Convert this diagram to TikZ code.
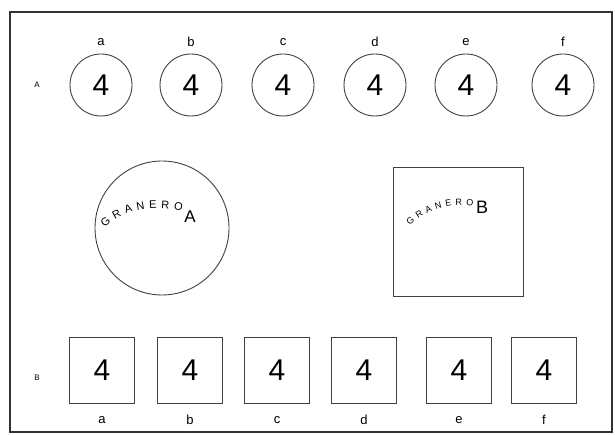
\documentclass[tikz,border=0pt]{standalone}
\usepackage{fontspec}
\setmainfont{Liberation Sans}
\usetikzlibrary{decorations.text}
\begin{document}
\begin{tikzpicture}[x=1pt,y=1pt,
  ink/.style={draw=black!75, line width=0.9pt},
  bin/.style={ink, circle, minimum size=62pt, inner sep=0pt, font=\fontsize{30}{30}\selectfont},
  box/.style={ink, rectangle, minimum width=65pt, minimum height=66pt, inner sep=0pt, font=\fontsize{30}{30}\selectfont},
  lab/.style={font=\fontsize{13}{13}\selectfont, inner sep=1pt},
  rowlab/.style={font=\fontsize{8}{8}\selectfont, inner sep=1pt}]
\useasboundingbox (0,0) rectangle (615,434);
\draw[draw=black!80, line width=1.4pt] (10,2) rectangle (612,422);
% row A
\node[rowlab] (rA) at (37,349) {A};
\foreach \x/\l [count=\i] in {101/a,191/b,283/c,375/d,466/e,563/f}{
  \node[bin] (A\i) at (\x,349) {4};
  \node[lab] (LA\i) at (\x,392) {\l};
}
% granero A
\node[ink, circle, minimum size=134pt, inner sep=0pt] (GA) at (162,206) {};
\path[decorate, decoration={text along path, text={|\fontsize{11}{11}\selectfont|GRANERO}, text align=fit to path}]
  (105,206) .. controls (120,223) and (150,230) .. (182,223);
\node[font=\fontsize{17}{17}\selectfont] (GAl) at (190,217) {A};
% granero B
\node[ink, rectangle, minimum width=130pt, minimum height=129pt, inner sep=0pt] (GB) at (458,202.5) {};
\path[decorate, decoration={text along path, text={|\fontsize{9}{9}\selectfont|GRANERO}, text align=fit to path}]
  (410,208) .. controls (425,224) and (450,231) .. (473,228);
\node[font=\fontsize{18}{18}\selectfont] (GBl) at (482,227) {B};
% row B
\node[rowlab] (rB) at (37,56) {B};
\foreach \x/\l [count=\i] in {102/a,190/b,277/c,364/d,459/e,544/f}{
  \node[box] (B\i) at (\x,64) {4};
  \node[lab] (LB\i) at (\x,14) {\l};
}
\end{tikzpicture}
\end{document}
